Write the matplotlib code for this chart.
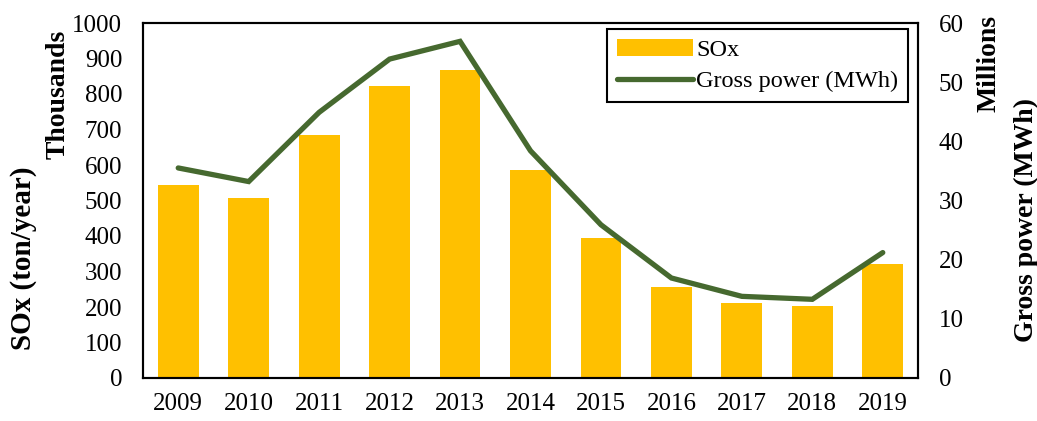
import matplotlib
matplotlib.use("Agg")
import matplotlib.pyplot as plt
import numpy as np

years = ["2009", "2010", "2011", "2012", "2013", "2014", "2015", "2016", "2017", "2018", "2019"]
sox_thousands = [543, 506, 684, 823, 868, 585, 394, 256, 210, 203, 322]
gross_power_millions = [35.5, 33.2, 44.9, 53.9, 56.9, 38.4, 25.9, 16.9, 13.8, 13.3, 21.2]

plt.rcParams['font.family'] = ['Liberation Serif', 'DejaVu Serif']
plt.rcParams['font.size'] = 18

fig = plt.figure(figsize=(10.37, 4.21), dpi=100)
W, H = 1037, 421
ax = fig.add_axes([143 / W, 1 - 378 / H, (918 - 143) / W, (378 - 23) / H])
x = np.arange(len(years))
bars = ax.bar(x, sox_thousands, width=0.58, color='#FFC000', label='SOx', zorder=2)
ax.set_xlim(-0.5, len(years) - 0.5)
ax.set_ylim(0, 1000)
ax.set_yticks(np.arange(0, 1001, 100))
ax.set_xticks(x)
ax.set_xticklabels(years)
ax.tick_params(axis='y', length=0, pad=15)
ax.tick_params(axis='x', length=0, pad=11)

ax2 = ax.twinx()
line, = ax2.plot(x, gross_power_millions, color='#46692F', lw=3.8, label='Gross power (MWh)',
                 solid_capstyle='round', solid_joinstyle='miter', zorder=3)
ax2.set_ylim(0, 60)
ax2.set_yticks(np.arange(0, 61, 10))
ax2.tick_params(axis='y', length=0, pad=15)

for a in (ax, ax2):
    for s in a.spines.values():
        s.set_linewidth(1.5)
        s.set_color('black')

leg = ax2.legend([bars, line], ['SOx', 'Gross power (MWh)'], loc='upper right',
                 bbox_to_anchor=((908 - 143) / (918 - 143), 1 - 6 / 355),
                 fancybox=False, framealpha=1, edgecolor='black', fontsize=17.5,
                 handlelength=3.1, handletextpad=0.15, borderpad=0.4, labelspacing=0.4,
                 borderaxespad=0)
leg.get_frame().set_linewidth(1.5)

fig.text(24 / W, 1 - 258 / H, 'SOx (ton/year)', rotation=90, fontweight='bold',
         fontsize=21, ha='center', va='center')
fig.text(58 / W, 1 - 94 / H, 'Thousands', rotation=90, fontweight='bold',
         fontsize=20, ha='center', va='center')
fig.text(989 / W, 1 - 64 / H, 'Millions', rotation=90, fontweight='bold',
         fontsize=20, ha='center', va='center')
fig.text(1026 / W, 1 - 220 / H, 'Gross power (MWh)', rotation=90, fontweight='bold',
         fontsize=20, ha='center', va='center')

fig.savefig('out.png', dpi=100)
